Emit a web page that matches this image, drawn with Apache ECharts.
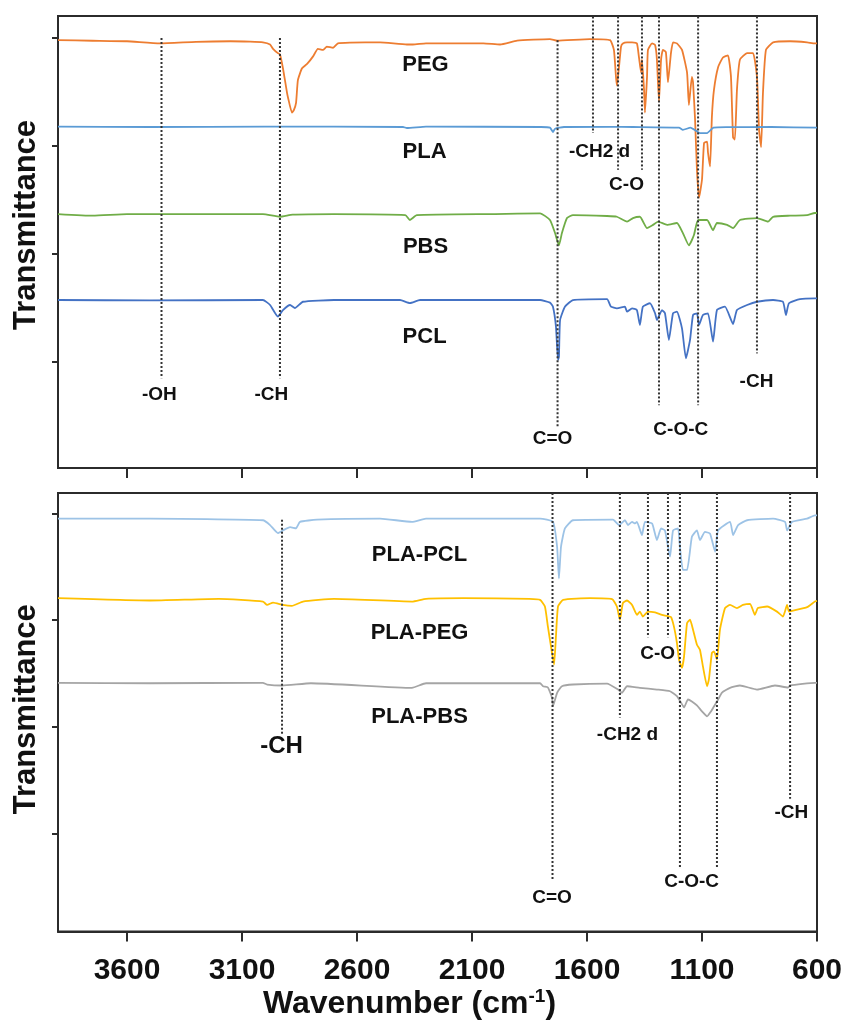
<!DOCTYPE html>
<html>
<head>
<meta charset="utf-8">
<title>FTIR spectra</title>
<script src="https://cdn.jsdelivr.net/npm/echarts@6/dist/echarts.min.js"></script>
<style>
  html, body { margin: 0; padding: 0; background: #ffffff; }
  #chart { width: 846px; height: 1021px; }
</style>
</head>
<body>
<div id="chart"></div>
<script>
// ---- Axis ticks ----
const wavenumberTicks = [600, 1100, 1600, 2100, 2600, 3100, 3600];
const transmittanceTicks = [1, 2, 3, 4];

// ---- Spectra: [wavenumber (cm-1), transmittance (a.u., offset)] ----
const pegSpectrum = [
  [3900,3.98],[3750,3.975],[3600,3.97],[3457,3.95],[3300,3.965],[3150,3.97],[3065,3.966],[3009,3.96],
  [2978,3.94],[2965,3.90],[2944,3.86],[2935,3.85],[2922,3.72],[2904,3.49],[2900,3.45],[2883,3.31],
  [2875,3.33],[2865,3.40],[2857,3.61],[2839,3.72],[2817,3.76],[2791,3.83],[2770,3.90],[2748,3.89],
  [2731,3.92],[2704,3.91],[2683,3.95],[2630,3.957],[2500,3.96],[2383,3.94],[2357,3.94],[2300,3.95],
  [2165,3.95],[2050,3.95],[1978,3.94],[1904,3.975],[1761,3.99],[1730,3.975],[1587,3.99],[1500,3.98],
  [1483,3.89],[1474,3.64],[1470,3.56],[1461,3.73],[1452,3.92],[1444,3.95],[1426,3.96],[1404,3.96],
  [1383,3.95],[1374,3.82],[1365,3.68],[1361,3.80],[1352,3.52],[1348,3.31],[1339,3.64],[1335,3.89],
  [1317,3.95],[1304,3.935],[1296,3.80],[1287,3.41],[1278,3.80],[1270,3.89],[1257,3.87],[1248,3.59],
  [1235,3.86],[1226,3.96],[1209,3.95],[1187,3.89],[1165,3.68],[1157,3.38],[1144,3.64],[1139,3.59],
  [1130,3.24],[1122,2.78],[1113,2.52],[1100,2.69],[1091,3.03],[1078,3.04],[1074,2.94],[1065,2.81],
  [1057,3.27],[1048,3.52],[1030,3.73],[1009,3.82],[987,3.84],[974,3.64],[965,3.08],[957,3.06],
  [948,3.52],[935,3.80],[904,3.86],[878,3.86],[861,3.64],[852,3.15],[843,2.99],[835,3.49],
  [822,3.89],[791,3.96],[717,3.97],[643,3.96],[609,3.95],[600,3.95]
];
const plaSpectrum = [
  [3900,3.18],[3500,3.176],[3000,3.18],[2400,3.176],[2383,3.167],[2300,3.18],[1800,3.176],[1761,3.17],
  [1748,3.13],[1739,3.16],[1700,3.176],[1500,3.178],[1400,3.176],[1200,3.17],[1183,3.15],[1150,3.17],
  [1109,3.12],[1078,3.12],[1050,3.17],[991,3.175],[800,3.176],[600,3.17]
];
const pbsSpectrum = [
  [3900,2.37],[3748,2.355],[3600,2.37],[3200,2.37],[3009,2.37],[2935,2.345],[2880,2.365],[2700,2.37],
  [2390,2.36],[2370,2.315],[2340,2.36],[2000,2.37],[1804,2.377],[1761,2.315],[1739,2.194],[1722,2.08],
  [1709,2.194],[1687,2.333],[1661,2.36],[1513,2.352],[1470,2.345],[1426,2.30],[1400,2.333],[1370,2.345],
  [1339,2.24],[1313,2.27],[1291,2.30],[1252,2.27],[1209,2.287],[1183,2.194],[1157,2.08],[1135,2.176],
  [1117,2.315],[1078,2.315],[1052,2.22],[1035,2.287],[991,2.27],[965,2.24],[935,2.315],[861,2.333],
  [813,2.30],[791,2.345],[717,2.355],[643,2.36],[609,2.38],[600,2.38]
];
const pclSpectrum = [
  [3900,1.574],[3500,1.57],[3009,1.574],[2978,1.528],[2944,1.42],[2922,1.48],[2891,1.528],[2870,1.50],
  [2835,1.558],[2700,1.574],[2413,1.574],[2370,1.546],[2326,1.574],[1804,1.574],[1761,1.55],[1748,1.512],
  [1735,1.327],[1726,1.019],[1722,1.049],[1717,1.389],[1696,1.512],[1661,1.574],[1513,1.583],[1496,1.512],
  [1470,1.497],[1435,1.512],[1426,1.466],[1404,1.497],[1383,1.481],[1370,1.343],[1357,1.512],[1326,1.544],
  [1304,1.451],[1296,1.389],[1274,1.481],[1261,1.451],[1244,1.204],[1226,1.451],[1209,1.466],[1187,1.312],
  [1170,1.034],[1152,1.204],[1139,1.435],[1122,1.451],[1113,1.343],[1096,1.435],[1074,1.451],[1052,1.188],
  [1035,1.481],[1000,1.512],[965,1.352],[948,1.481],[904,1.528],[861,1.558],[791,1.574],[748,1.558],
  [735,1.435],[722,1.544],[674,1.583],[609,1.59],[600,1.59]
];
const plaPclSpectrum = [
  [3900,3.95],[3500,3.95],[3009,3.935],[2978,3.89],[2944,3.815],[2922,3.84],[2891,3.87],[2865,3.86],
  [2848,3.92],[2774,3.94],[2500,3.95],[2361,3.92],[2300,3.95],[1804,3.95],[1748,3.92],[1730,3.687],
  [1722,3.39],[1713,3.687],[1696,3.858],[1661,3.935],[1487,3.94],[1461,3.89],[1435,3.935],[1422,3.89],
  [1404,3.92],[1391,3.905],[1383,3.92],[1361,3.796],[1348,3.92],[1317,3.905],[1296,3.75],[1278,3.858],
  [1261,3.84],[1239,3.594],[1226,3.84],[1204,3.858],[1196,3.687],[1183,3.47],[1165,3.47],[1144,3.78],
  [1122,3.84],[1109,3.75],[1087,3.826],[1065,3.81],[1043,3.64],[1030,3.84],[978,3.92],[965,3.796],
  [943,3.89],[904,3.935],[791,3.95],[739,3.92],[730,3.84],[709,3.92],[643,3.95],[609,3.98],[600,3.98]
];
const plaPegSpectrum = [
  [3900,3.206],[3500,3.184],[3200,3.2],[3009,3.174],[2991,3.143],[2965,3.165],[2922,3.143],[2883,3.134],
  [2835,3.174],[2700,3.2],[2361,3.174],[2300,3.2],[2139,3.206],[1850,3.2],[1804,3.19],[1783,3.128],
  [1770,2.94],[1752,2.693],[1743,2.584],[1735,2.848],[1726,3.128],[1704,3.19],[1587,3.206],[1491,3.197],
  [1470,3.128],[1457,3.004],[1444,3.16],[1426,3.184],[1404,3.143],[1383,3.05],[1370,3.08],[1357,3.034],
  [1335,3.08],[1304,3.072],[1274,3.05],[1252,3.04],[1235,3.03],[1222,2.94],[1209,2.787],[1200,2.631],
  [1187,2.554],[1178,2.662],[1165,2.973],[1152,3.004],[1139,2.91],[1122,2.77],[1109,2.724],[1096,2.568],
  [1078,2.382],[1070,2.445],[1057,2.693],[1048,2.708],[1035,2.631],[1022,2.91],[1000,3.113],[978,3.143],
  [948,3.113],[922,3.143],[891,3.153],[870,3.05],[857,3.113],[817,3.128],[774,3.08],[748,3.034],
  [730,3.143],[722,3.08],[704,3.09],[643,3.122],[609,3.174],[600,3.18]
];
const plaPbsSpectrum = [
  [3900,2.414],[3500,2.41],[3009,2.414],[2991,2.398],[2926,2.389],[2800,2.41],[2361,2.367],[2300,2.41],
  [1804,2.41],[1791,2.382],[1770,2.37],[1752,2.274],[1748,2.196],[1730,2.32],[1709,2.382],[1661,2.398],
  [1513,2.407],[1465,2.351],[1448,2.32],[1426,2.382],[1370,2.367],[1296,2.351],[1239,2.335],[1209,2.29],
  [1191,2.227],[1178,2.184],[1161,2.258],[1144,2.24],[1122,2.202],[1100,2.146],[1078,2.10],[1061,2.146],
  [1048,2.193],[1030,2.258],[1013,2.323],[978,2.367],[935,2.389],[861,2.351],[783,2.389],[726,2.37],
  [717,2.389],[609,2.414],[600,2.414]
];

// ---- Band assignments: wavenumber of each guide line and its vertical span ----
const topBands = [
  [3450, 4.00, 0.85], [2935, 4.00, 0.85], [1728, 3.98, 0.39], [1574, 4.2, 3.12], [1465, 4.2, 2.78],
  [1361, 4.2, 2.78], [1287, 4.2, 0.60], [1117, 4.2, 0.60], [861, 4.2, 1.08]
];
const bottomBands = [
  [2926, 3.94, 1.93], [1750, 4.19, 0.56], [1457, 4.19, 2.09], [1335, 4.19, 2.84], [1248, 4.19, 2.84],
  [1196, 4.19, 0.675], [1035, 4.19, 0.675], [717, 4.19, 1.33]
];
const topBandNames = [
  ['-OH', 3457, 0.69], ['-CH', 2970, 0.69], ['C=O', 1748, 0.28], ['-CH2 d', 1543, 2.94],
  ['C-O', 1426, 2.64], ['C-O-C', 1190, 0.37], ['-CH', 861, 0.81]
];
const bottomBandNames = [
  ['-CH', 2926, 1.81], ['C=O', 1750, 0.395], ['-CH2 d', 1422, 1.92], ['C-O', 1291, 2.68],
  ['C-O-C', 1143, 0.55], ['-CH', 709, 1.19]
];
const topSampleNames = [['PEG', 2300, 3.75], ['PLA', 2304, 2.94], ['PBS', 2300, 2.06], ['PCL', 2304, 1.23]];
const bottomSampleNames = [['PLA-PCL', 2326, 3.61], ['PLA-PEG', 2326, 2.88], ['PLA-PBS', 2326, 2.09]];

// ---- Styling ----
const FONT = '"Liberation Sans", Arial, Helvetica, sans-serif';
const INK = '#111111';
const AXIS = '#2b2b2b';

const chart = echarts.init(document.getElementById('chart'), null, { renderer: 'canvas' });

function xAxisDef(gridIndex, withLabels) {
  return {
    type: 'value', gridIndex, min: 600, max: 3900, inverse: true,
    axisLine: { show: true, lineStyle: { color: AXIS, width: 2 } },
    axisTick: { show: true, inside: false, length: 10, customValues: wavenumberTicks,
                lineStyle: { color: AXIS, width: 2 } },
    axisLabel: withLabels ? {
      show: true, customValues: wavenumberTicks, margin: 24, formatter: v => String(v),
      fontFamily: FONT, fontWeight: 'bold', fontSize: 30, color: INK
    } : { show: false },
    splitLine: { show: false },
    name: withLabels ? 'Wavenumber (cm{sup|-1})' : '',
    nameLocation: 'middle', nameGap: 56,
    nameTextStyle: {
      fontFamily: FONT, fontWeight: 'bold', fontSize: 32, color: INK, padding: [0, 56, 0, 0],
      rich: { sup: { fontFamily: FONT, fontWeight: 'bold', fontSize: 19, color: INK, verticalAlign: 'top', padding: [0, 0, 14, 0] } }
    }
  };
}
function yAxisDef(gridIndex, min, max, shift) {
  return {
    type: 'value', gridIndex, min, max,
    axisLine: { show: true, lineStyle: { color: AXIS, width: 2 } },
    axisTick: { show: true, inside: false, length: 6, customValues: transmittanceTicks,
                lineStyle: { color: AXIS, width: 2 } },
    axisLabel: { show: false },
    splitLine: { show: false },
    name: 'Transmittance', nameLocation: 'middle', nameGap: 16,
    nameTextStyle: { fontFamily: FONT, fontWeight: 'bold', fontSize: 31, color: INK, padding: shift }
  };
}

function spectrum(name, data, color, idx) {
  return {
    name, type: 'line', data, xAxisIndex: idx, yAxisIndex: idx,
    showSymbol: false, symbol: 'none', smooth: 0.15,
    lineStyle: { color, width: 1.8, join: 'round' }, z: 3, silent: true
  };
}
function bandLines(bands, idx) {
  return bands.map(b => ({
    type: 'line', xAxisIndex: idx, yAxisIndex: idx, silent: true, symbol: 'none', z: 4,
    data: [[b[0], b[1]], [b[0], b[2]]],
    lineStyle: { color: '#333333', width: 2, type: [2, 2] }
  }));
}
function textLayer(items, idx, fontSize, bigFirst) {
  return {
    type: 'scatter', xAxisIndex: idx, yAxisIndex: idx, silent: true, z: 6,
    symbolSize: 1, itemStyle: { color: '#ffffff', opacity: 1 },
    data: items.map((t, i) => ({
      name: t[0], value: [t[1], t[2]],
      label: (bigFirst && i === 0) ? { fontSize: 24 } : undefined
    })),
    label: {
      show: true, position: [0, 0], align: 'center', verticalAlign: 'middle',
      formatter: p => p.name, textBorderWidth: 0,
      fontFamily: FONT, fontWeight: 'bold', fontSize, color: INK
    }
  };
}

const option = {
  animation: false,
  backgroundColor: '#ffffff',
  grid: [
    { left: 58, top: 16, width: 759, height: 452, show: true, borderColor: AXIS, borderWidth: 2, containLabel: false },
    { left: 58, top: 493, width: 759, height: 440, show: true, borderColor: AXIS, borderWidth: 2, containLabel: false }
  ],
  xAxis: [xAxisDef(0, false), xAxisDef(1, true)],
  yAxis: [yAxisDef(0, 0.0185, 4.204, [0, 0, 0, 34]), yAxisDef(1, 0.087, 4.19, [0, 0, 0, 6])],
  series: [
    ...bandLines(topBands, 0),
    ...bandLines(bottomBands, 1),
    spectrum('PEG', pegSpectrum, '#ED7D31', 0),
    spectrum('PLA', plaSpectrum, '#5B9BD5', 0),
    spectrum('PBS', pbsSpectrum, '#70AD47', 0),
    spectrum('PCL', pclSpectrum, '#4472C4', 0),
    spectrum('PLA-PCL', plaPclSpectrum, '#9DC3E6', 1),
    spectrum('PLA-PEG', plaPegSpectrum, '#FFC000', 1),
    spectrum('PLA-PBS', plaPbsSpectrum, '#A5A5A5', 1),
    textLayer(topSampleNames, 0, 22, false),
    textLayer(bottomSampleNames, 1, 22, false),
    textLayer(topBandNames, 0, 19, false),
    textLayer(bottomBandNames, 1, 19, true)
  ]
};
chart.setOption(option);
</script>
</body>
</html>
